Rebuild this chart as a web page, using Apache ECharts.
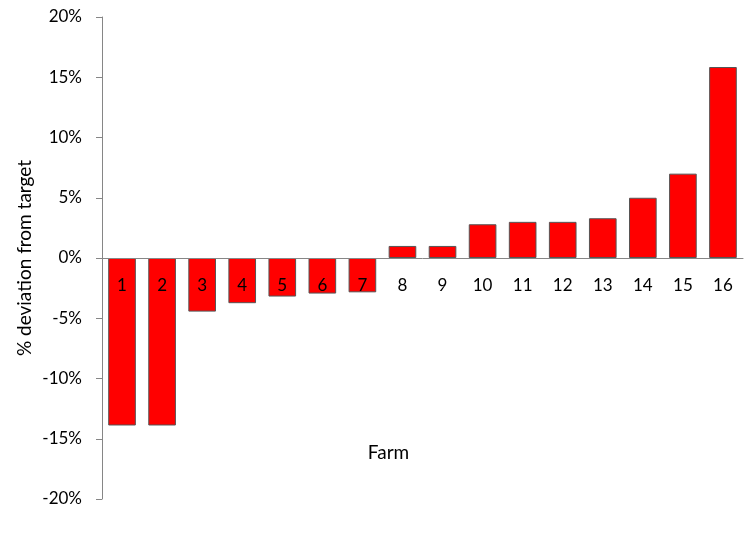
<!DOCTYPE html>
<html>
<head>
    <meta charset="utf-8">
    <script src="https://cdn.jsdelivr.net/npm/echarts@6/dist/echarts.min.js"></script>
    <style>
        html, body { margin: 0; padding: 0; background: #fff; }
    </style>
</head>
<body>
    <div id="main" style="width: 756px;height:542px;"></div>
    <script type="text/javascript">
        var myChart = echarts.init(document.getElementById('main'));

        // farms and their % deviation from target
        var farms = ['1', '2', '3', '4', '5', '6', '7', '8', '9', '10', '11', '12', '13', '14', '15', '16'];
        var deviation = [-13.9, -13.9, -4.45, -3.75, -3.2, -2.95, -2.85, 1.0, 1.0, 2.8, 3.0, 3.0, 3.3, 5.0, 7.0, 15.85];

        var yTicks = [-20, -15, -10, -5, 0, 5, 10, 15, 20];

        var fontName = 'Lato';

        var option = {
            animation: false,
            textStyle: { fontFamily: fontName },
            grid: {
                left: 102,
                right: 13,
                top: 17,
                bottom: 43,
                containLabel: false,
                outerBoundsMode: 'none'
            },
            xAxis: {
                type: 'category',
                data: farms,
                z: 5,  // labels sit over the negative bars
                name: 'Farm',
                nameLocation: 'middle',
                // labels and name are laid out from the grid bottom, pull them up to the zero line
                nameGap: -56,
                nameTextStyle: { fontSize: 19, color: '#000', fontFamily: fontName, padding: [0, 68, 0, 0] },
                axisLine: { onZero: true, lineStyle: { color: '#868686', width: 1 } },
                axisTick: { show: false },
                axisLabel: { fontSize: 17, color: '#000', margin: -222, fontFamily: fontName }
            },
            yAxis: {
                type: 'value',
                min: yTicks[0],
                max: yTicks[yTicks.length - 1],
                interval: 5,
                name: '% deviation from target',
                nameLocation: 'middle',
                nameGap: 68,
                nameMoveOverlap: false,
                nameTextStyle: { fontSize: 19, color: '#000', fontFamily: fontName },
                axisLine: { show: true, lineStyle: { color: '#868686', width: 1 } },
                axisTick: { show: true, length: 6, lineStyle: { color: '#868686' } },
                splitLine: { show: false },
                axisLabel: {
                    fontSize: 17,
                    color: '#000',
                    margin: 20,
                    fontFamily: fontName,
                    formatter: function (v) { return v + '%'; }
                }
            },
            series: [
                {
                    type: 'bar',
                    data: deviation,
                    barCategoryGap: '31%',
                    itemStyle: {
                        color: '#ff0000',
                        borderColor: '#555555',
                        borderWidth: 1
                    }
                }
            ]
        };

        myChart.setOption(option);
    </script>
</body>
</html>
